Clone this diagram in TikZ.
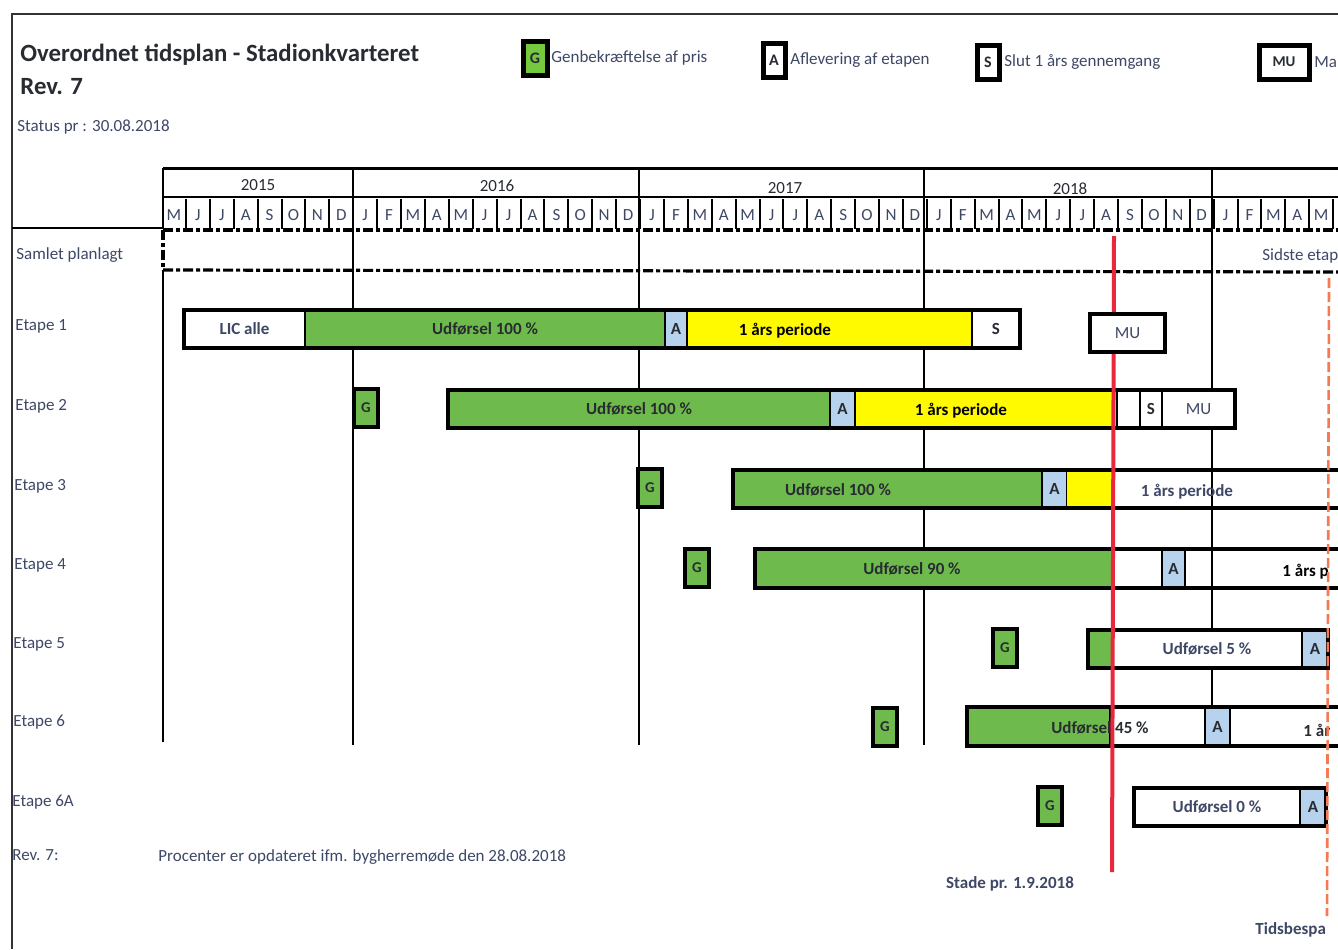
\documentclass[tikz,border=0pt]{standalone}
\usepackage{fontspec}
\setmainfont{Carlito}
\definecolor{txt}{RGB}{62,72,102}
\definecolor{dk}{RGB}{40,44,50}
\definecolor{gr}{RGB}{110,186,76}
\definecolor{lgr}{RGB}{118,200,62}
\definecolor{lb}{RGB}{182,210,236}
\definecolor{yl}{RGB}{255,250,0}
\definecolor{redl}{RGB}{232,40,60}
\definecolor{orl}{RGB}{245,122,82}
\newcommand\segb[7]{\node[segbox, fill=#6, minimum width={(#3-#2)*0.5pt}, minimum height={(#5-#4)*0.5pt}] (#1) at ({(#2+#3)/2},{(#4+#5)/2}) {#7};}
\begin{document}
\begin{tikzpicture}[x=0.5pt,y=-0.5pt,
  lbl/.style={font=\fontsize{8.5}{10}\selectfont, text=txt, inner sep=0pt},
  blbl/.style={font=\bfseries\fontsize{8.5}{10}\selectfont, text=dk, inner sep=0pt},
  segbox/.style={draw=black, line width=1pt, inner sep=0pt, outer sep=0pt, font=\bfseries\fontsize{8.5}{10}\selectfont, text=dk},
  outer/.style={draw=black, line width=2pt},
  gbox/.style={draw=black, line width=2pt, fill=gr, inner sep=0pt, minimum width=12pt, minimum height=19pt, font=\bfseries\fontsize{7.5}{9}\selectfont, text=dk},
  dashl/.style={draw=black, line width=1.6pt, dash pattern=on 5pt off 1.5pt on 2pt off 1.5pt},
  legbox/.style={draw=black, line width=2.5pt, inner sep=0pt, font=\bfseries\fontsize{8}{9}\selectfont, text=dk}
]
\useasboundingbox (0,0) rectangle (1338,949);
\clip (0,0) rectangle (1338,949);
\fill[white] (0,0) rectangle (1338,949);
% page frame
\draw[line width=1.2pt, black!80] (1338,14) -- (12,14) -- (12,949);
% title
\node[anchor=west, font=\bfseries\fontsize{12.4}{14}\selectfont, text=dk, inner sep=0pt] (title) at (20,55) {Overordnet tidsplan - Stadionkvarteret};
\node[anchor=west, font=\bfseries\fontsize{12.4}{14}\selectfont, text=dk, inner sep=0pt] (rev) at (20,87) {Rev. 7};
\node[lbl, anchor=west] (status) at (17,127) {Status pr : 30.08.2018};
% legend
\node[legbox, fill=lgr, minimum width=12pt, minimum height=17pt] (lg) at (535,58) {G};
\node[lbl, anchor=west] (lgt) at (551,58) {Genbekræftelse af pris};
\node[legbox, fill=white, minimum width=11pt, minimum height=17pt] (la) at (774,60) {A};
\node[lbl, anchor=west] (lat) at (790,60) {Aflevering af etapen};
\node[legbox, fill=white, minimum width=11pt, minimum height=17pt] (ls) at (988,62) {S};
\node[lbl, anchor=west] (lst) at (1004,62) {Slut 1 års gennemgang};
\node[legbox, fill=white, minimum width=25pt, minimum height=17pt, font=\bfseries\fontsize{7.5}{9}\selectfont] (lmu) at (1284,62) {MU};
\node[lbl, anchor=west] (lmut) at (1314,62) {Ma};
% header
\draw[line width=1.5pt] (163,168) -- (1338,168);
\draw[line width=0.8pt] (163,197) -- (1338,197);
\draw[line width=1pt] (12,228) -- (163,228);
\node[font=\fontsize{8.5}{10}\selectfont, text=dk] (y15) at (258,185) {2015};
\node[font=\fontsize{8.5}{10}\selectfont, text=dk] (y16) at (497,186) {2016};
\node[font=\fontsize{8.5}{10}\selectfont, text=dk] (y17) at (785,188) {2017};
\node[font=\fontsize{8.5}{10}\selectfont, text=dk] (y18) at (1070,189) {2018};
\foreach \m [count=\i from 0] in {M,J,J,A,S,O,N,D,J,F,M,A,M,J,J,A,S,O,N,D,J,F,M,A,M,J,J,A,S,O,N,D,J,F,M,A,M,J,J,A,S,O,N,D,J,F,M,A,M}{
  \node[lbl] (m\i) at ({162+23.9*\i+12},215) {\m};
  \draw[line width=1pt] ({162+23.9*(\i+1)},199) -- ({162+23.9*(\i+1)},229);
}
% year grid lines
\draw[line width=1.3pt] (163,168) -- (163,229);
\draw[line width=1.3pt] (163,270) -- (163,742);
\draw[line width=1.3pt] (353,168) -- (353,745);
\draw[line width=1.3pt] (639,168) -- (639,745);
\draw[line width=1.3pt] (924,168) -- (924,745);
\draw[line width=1.3pt] (1212,168) -- (1212,707);
% dashed plan
\draw[dashl] (163,230) -- (1338,230);
\draw[dashl] (163,270) -- (1338,272);
\draw[dashl] (163,230) -- (163,270);
\node[lbl, anchor=west] (samlet) at (16,255) {Samlet planlagt};
\node[lbl, anchor=west] (sidste) at (1262,256) {Sidste etap};
% row labels
\node[lbl, anchor=west] (r1) at (15,326) {Etape 1};
\node[lbl, anchor=west] (r2) at (15,406) {Etape 2};
\node[lbl, anchor=west] (r3) at (14,486) {Etape 3};
\node[lbl, anchor=west] (r4) at (14,565) {Etape 4};
\node[lbl, anchor=west] (r5) at (13,644) {Etape 5};
\node[lbl, anchor=west] (r6) at (13,722) {Etape 6};
\node[lbl, anchor=west] (r6a) at (12,802) {Etape 6A};
\node[lbl, anchor=west] (rev7) at (12,855) {Rev. 7:};
\node[lbl, anchor=west] (proc) at (158,857) {Procenter er opdateret ifm. bygherremøde den 28.08.2018};
% Etape 1
\segb{e1l}{184}{305}{310}{348}{white}{\textcolor{txt}{LIC alle}}
\segb{e1u}{305}{665}{310}{348}{gr}{Udførsel 100 \%}
\segb{e1a}{665}{687}{310}{348}{lb}{A}
\segb{e1y}{687}{972}{310}{348}{yl}{}
\segb{e1s}{972}{1020}{310}{348}{white}{S}
\draw[outer] (e1l.north west) rectangle (e1s.south east);
\node[blbl, text=black] (e1p) at (785,331) {1 års periode};
% Etape 2
\node[gbox] (e2g) at (366,408) {G};
\segb{e2u}{448}{830}{390}{428}{gr}{Udførsel 100 \%}
\segb{e2a}{830}{855}{390}{428}{lb}{A}
\segb{e2y}{855}{1117}{390}{428}{yl}{}
\segb{e2w}{1117}{1140}{390}{428}{white}{}
\segb{e2s}{1140}{1162}{390}{428}{white}{S}
\segb{e2mu}{1162}{1235}{390}{428}{white}{\textcolor{txt}{\mdseries MU}}
\draw[outer] (e2u.north west) rectangle (e2mu.south east);
\node[blbl, text=black] (e2p) at (961,411) {1 års periode};
% Etape 3
\node[gbox] (e3g) at (650,488) {G};
\segb{e3u}{733}{1042}{470}{508}{gr}{}
\segb{e3a}{1042}{1067}{470}{508}{lb}{A}
\path[fill=yl] (1067,470) rectangle (1113,508);
\coordinate (e3r1) at (1338,470);
\coordinate (e3r2) at (1338,508);
\draw[outer] (e3r1) -- (e3u.north west) -- (e3u.south west) -- (e3r2);
\node[blbl] (e3ut) at (838,490) {Udførsel 100 \%};
\node[blbl, text=txt] (e3p) at (1187,492) {1 års periode};
% Etape 4
\node[gbox] (e4g) at (697,568) {G};
\segb{e4u}{755}{1112}{549}{588}{gr}{}
\segb{e4w}{1112}{1162}{549}{588}{white}{}
\segb{e4a}{1162}{1185}{549}{588}{lb}{A}
\coordinate (e4r1) at (1338,549);
\coordinate (e4r2) at (1338,588);
\draw[outer] (e4r1) -- (e4u.north west) -- (e4u.south west) -- (e4r2);
\node[blbl] (e4ut) at (912,569) {Udførsel 90 \%};
\node[blbl, text=black, anchor=west] (e4p) at (1282,572) {1 års p};
% Etape 5
\node[gbox] (e5g) at (1005,648) {G};
\segb{e5u}{1088}{1112}{630}{668}{gr}{}
\segb{e5w}{1112}{1302}{630}{668}{white}{\textcolor{txt}{Udførsel 5 \%}}
\segb{e5a}{1302}{1328}{630}{668}{lb}{A}
\draw[outer] (e5u.north west) rectangle (e5a.south east);
% Etape 6
\node[gbox] (e6g) at (885,727) {G};
\segb{e6u}{967}{1110}{707}{746}{gr}{}
\segb{e6w}{1110}{1205}{707}{746}{white}{}
\segb{e6a}{1205}{1230}{707}{746}{lb}{A}
\coordinate (e6r1) at (1338,707);
\coordinate (e6r2) at (1338,746);
\draw[outer] (e6r1) -- (e6u.north west) -- (e6u.south west) -- (e6r2);
\node[blbl] (e6ut) at (1100,728) {Udførsel 45 \%};
\node[blbl, text=dk, anchor=west] (e6p) at (1303,730) {1 år};
% Etape 6A
\node[gbox] (e7g) at (1050,806) {G};
\segb{e7w}{1134}{1300}{788}{826}{white}{\textcolor{txt}{Udførsel 0 \%}}
\segb{e7a}{1300}{1326}{788}{826}{lb}{A}
\draw[outer] (e7w.north west) rectangle (e7a.south east);
% status lines
\coordinate (redtop) at (1114,236);
\coordinate (redbot) at (1112,872);
\draw[redl, line width=2pt] (redtop) -- (redbot);
\node[blbl, text=txt] (stade) at (1010,884) {Stade pr. 1.9.2018};
\coordinate (ortop) at (1329,278);
\coordinate (orbot) at (1327,916);
\draw[orl, line width=1.3pt, dash pattern=on 5pt off 2pt] (ortop) -- (orbot);
\node[blbl, text=txt, anchor=west] (tids) at (1255,930) {Tidsbespa};
% Etape 1 MU box (on top of the status line)
\segb{e1mu}{1090}{1165}{314}{352}{white}{\textcolor{txt}{\mdseries MU}}
\draw[outer] (e1mu.north west) rectangle (e1mu.south east);
\end{tikzpicture}
\end{document}
